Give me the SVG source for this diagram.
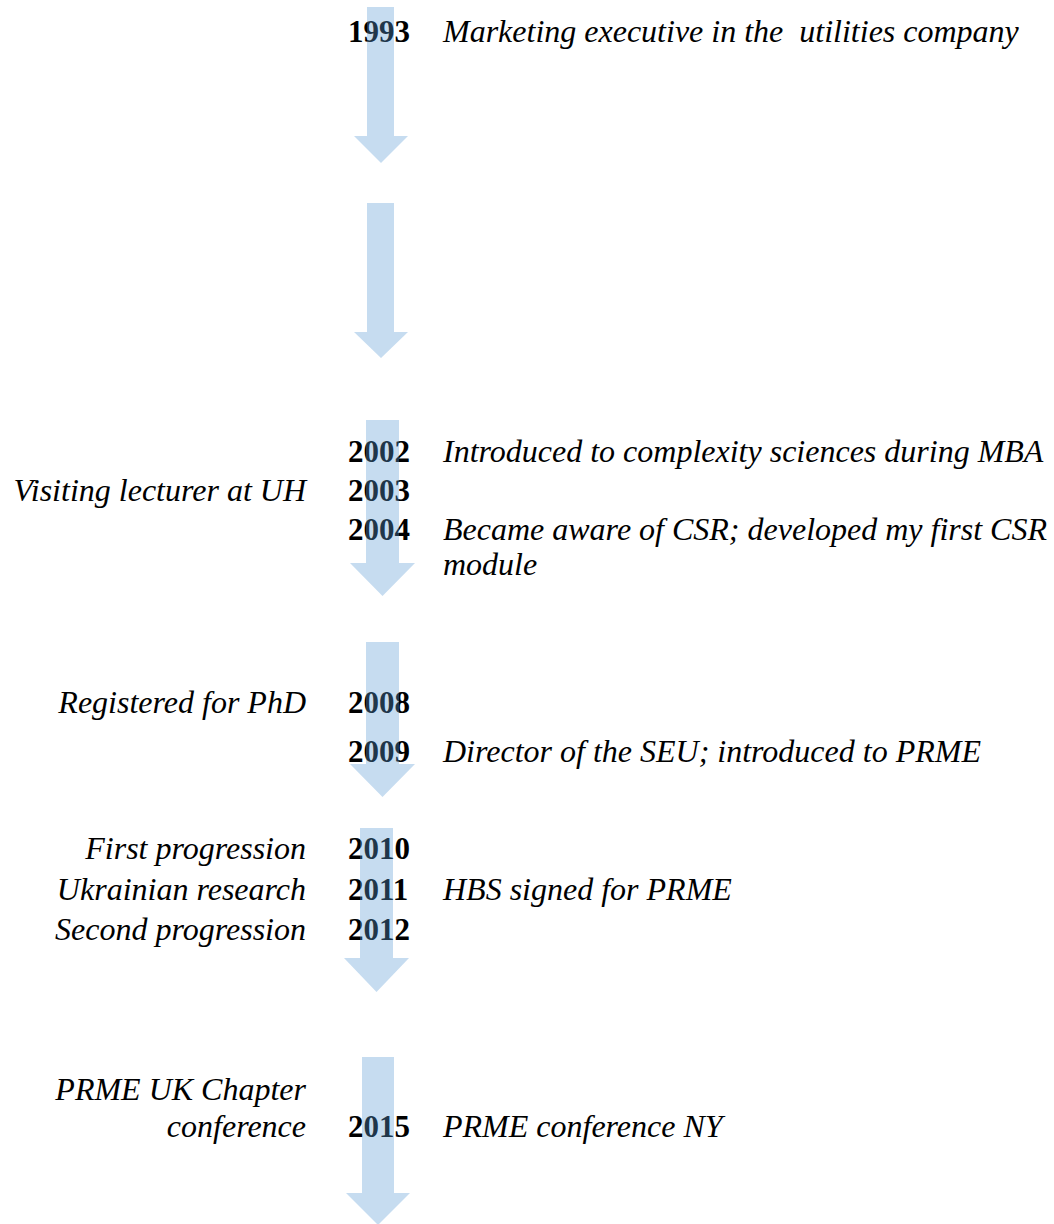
<svg xmlns="http://www.w3.org/2000/svg" width="1054" height="1224" viewBox="0 0 1054 1224">
<style>
.yr{font-family:"Liberation Serif","Times New Roman",serif;font-weight:bold;font-size:31px;fill:#000}
.it{font-family:"Liberation Serif","Times New Roman",serif;font-style:italic;font-size:32px;fill:#000}
.l{text-anchor:end}
.arr{fill:#5b9bd5;fill-opacity:0.35;stroke:none}
</style>
<rect width="1054" height="1224" fill="#fff"/>
<g id="n1993"><text class="yr" x="348" y="42">1993</text><text class="it" x="443" y="42" xml:space="preserve">Marketing executive in the  utilities company</text></g>
<g id="n2002"><text class="yr" x="348" y="462">2002</text><text class="it" x="443" y="462">Introduced to complexity sciences during MBA</text></g>
<g id="n2003"><text class="it l" x="306" y="501">Visiting lecturer at UH</text><text class="yr" x="348" y="501">2003</text></g>
<g id="n2004"><text class="yr" x="348" y="540">2004</text><text class="it" x="443" y="540">Became aware of CSR; developed my first CSR</text><text class="it" x="443" y="575">module</text></g>
<g id="n2008"><text class="it l" x="306" y="713">Registered for PhD</text><text class="yr" x="348" y="713">2008</text></g>
<g id="n2009"><text class="yr" x="348" y="762">2009</text><text class="it" x="443" y="762">Director of the SEU; introduced to PRME</text></g>
<g id="n2010"><text class="it l" x="306" y="859">First progression</text><text class="yr" x="348" y="859">2010</text></g>
<g id="n2011"><text class="it l" x="306" y="900">Ukrainian research</text><text class="yr" x="348" y="900">2011</text><text class="it" x="443" y="900">HBS signed for PRME</text></g>
<g id="n2012"><text class="it l" x="306" y="940">Second progression</text><text class="yr" x="348" y="940">2012</text></g>
<g id="n2015"><text class="it l" x="306" y="1100">PRME UK Chapter</text><text class="it l" x="306" y="1137">conference</text><text class="yr" x="348" y="1137">2015</text><text class="it" x="443" y="1137">PRME conference NY</text></g>
<g id="connectors">
<polygon class="arr" points="367,7 394,7 394,136 408,136 381,163 354,136 367,136"/>
<polygon class="arr" points="367,203 394,203 394,332 408,332 381,358 354,332 367,332"/>
<polygon class="arr" points="366,420 399,420 399,563 415,563 382.5,596 350,563 366,563"/>
<polygon class="arr" points="366,642 399,642 399,764 415,764 382.5,797 350,764 366,764"/>
<polygon class="arr" points="360,828 393,828 393,958 409,958 376.5,992 344,958 360,958"/>
<polygon class="arr" points="362,1057 394,1057 394,1193 410,1193 378,1225 346,1193 362,1193"/>
</g>
</svg>
